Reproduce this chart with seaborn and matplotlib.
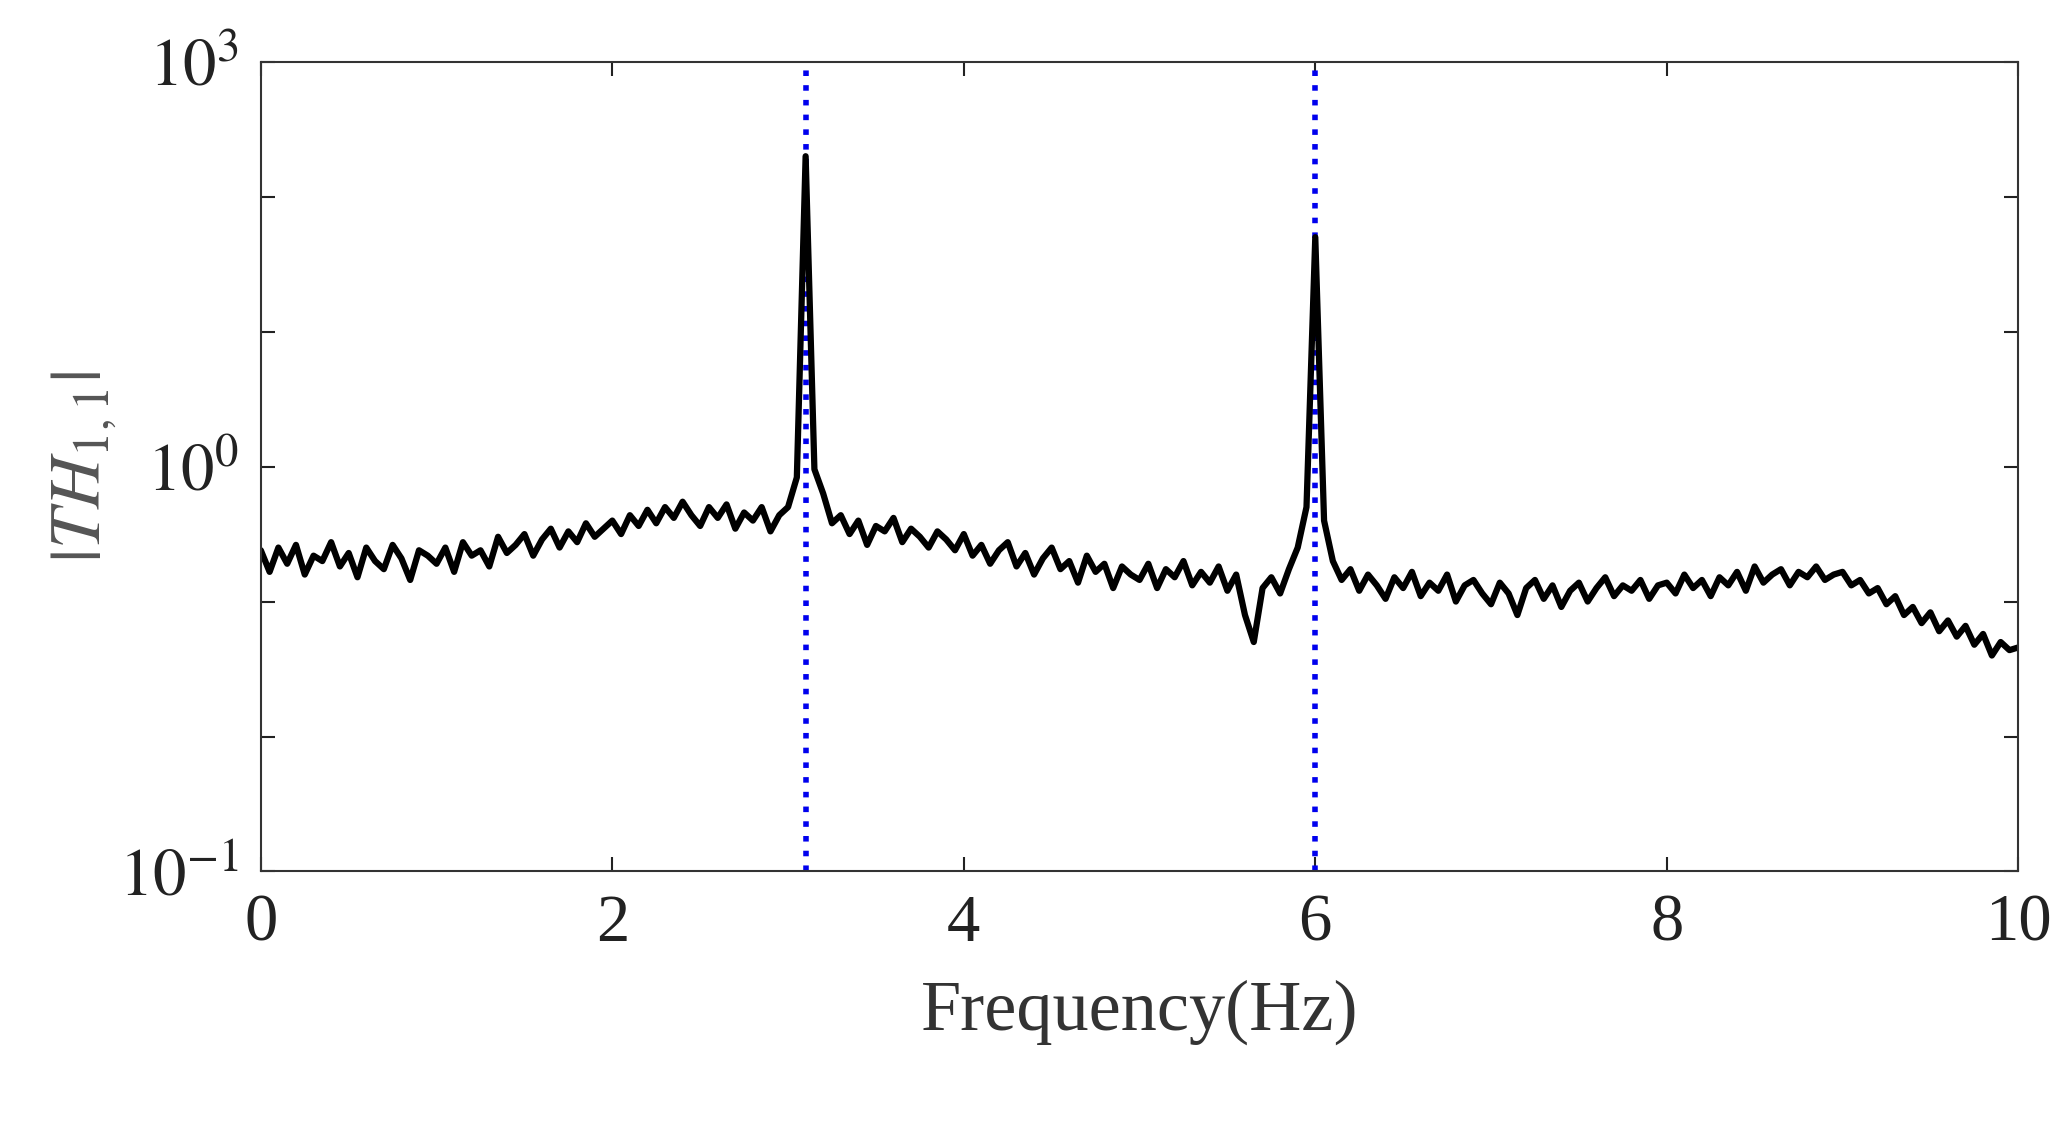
import numpy as np
import pandas as pd
import matplotlib.pyplot as plt
import seaborn as sns

# spectrum values, log10 magnitude, sampled every 0.05 Hz from 0 to 10 Hz
log_mag = [
    -0.62, -0.78, -0.60, -0.72, -0.58, -0.80, -0.66, -0.70, -0.56, -0.74,
    -0.64, -0.82, -0.60, -0.70, -0.76, -0.58, -0.68, -0.84, -0.62, -0.66,
    -0.72, -0.60, -0.78, -0.56, -0.66, -0.62, -0.74, -0.52, -0.64, -0.58,
    -0.50, -0.66, -0.54, -0.46, -0.60, -0.48, -0.56, -0.42, -0.52, -0.46,
    -0.40, -0.50, -0.36, -0.44, -0.32, -0.42, -0.30, -0.38, -0.26, -0.36,
    -0.44, -0.30, -0.38, -0.28, -0.46, -0.34, -0.40, -0.30, -0.48, -0.36,
    -0.30, -0.08, 2.30, -0.02, -0.20, -0.42, -0.36, -0.50, -0.40, -0.58,
    -0.44, -0.48, -0.38, -0.56, -0.46, -0.52, -0.60, -0.48, -0.54, -0.62,
    -0.50, -0.66, -0.58, -0.72, -0.62, -0.56, -0.74, -0.64, -0.80, -0.68,
    -0.60, -0.76, -0.70, -0.86, -0.66, -0.78, -0.72, -0.90, -0.74, -0.80,
    -0.84, -0.72, -0.90, -0.76, -0.82, -0.70, -0.88, -0.78, -0.86, -0.74,
    -0.92, -0.80, -1.10, -1.30, -0.90, -0.82, -0.94, -0.76, -0.60, -0.30,
    1.70, -0.40, -0.70, -0.84, -0.76, -0.92, -0.80, -0.88, -0.98, -0.82,
    -0.90, -0.78, -0.96, -0.86, -0.92, -0.80, -1.00, -0.88, -0.84, -0.94,
    -1.02, -0.86, -0.94, -1.10, -0.90, -0.84, -0.98, -0.88, -1.04, -0.92,
    -0.86, -1.00, -0.90, -0.82, -0.96, -0.88, -0.92, -0.84, -0.98, -0.88,
    -0.86, -0.94, -0.80, -0.90, -0.84, -0.96, -0.82, -0.88, -0.78, -0.92,
    -0.74, -0.86, -0.80, -0.76, -0.88, -0.78, -0.82, -0.74, -0.84, -0.80,
    -0.78, -0.88, -0.84, -0.94, -0.90, -1.02, -0.96, -1.10, -1.04, -1.16,
    -1.08, -1.22, -1.14, -1.26, -1.18, -1.32, -1.24, -1.40, -1.30, -1.36,
    -1.34,
]
freq = np.round(np.arange(len(log_mag)) * 0.05, 2)
peak_freqs = [3.1, 6.0]

x_ticks = [0, 2, 4, 6, 8, 10]
y_ticks = [1e-3, 1e-2, 1e-1, 1e0, 1e1, 1e2, 1e3]
y_labels = ['$10^{-1}$', '', '', '$10^{0}$', '', '', '$10^{3}$']

df = pd.DataFrame({'f': freq, 'mag': 10.0 ** np.array(log_mag)})

sns.set_style('ticks')
plt.rcParams['font.family'] = ['Liberation Serif', 'DejaVu Serif']
plt.rcParams['mathtext.fontset'] = 'stix'

fig = plt.figure(figsize=(20.7, 11.23), dpi=100)
ax = fig.add_axes([0.126, 0.224, 0.849, 0.721])

for pf in peak_freqs:
    ax.axvline(pf, color='#0000ee', ls=':', lw=4, zorder=1)
sns.lineplot(data=df, x='f', y='mag', color='black', lw=4.5, ax=ax, zorder=2)

ax.set_yscale('log')
ax.set_xlim(0, 10)
ax.set_ylim(1e-3, 1e3)
ax.set_xticks(x_ticks)
ax.set_yticks(y_ticks)
ax.set_yticklabels(y_labels)
ax.minorticks_off()
ax.tick_params(direction='in', length=10, width=1.5, labelsize=48, colors='#222222',
               top=True, right=True, pad=16)
for s in ax.spines.values():
    s.set_linewidth(1.5)
    s.set_color('#333333')

ax.set_xlabel('Frequency(Hz)', fontsize=52, color='#333333', labelpad=18)
ax.set_ylabel('$|TH_{1,1}|$', fontsize=52, color='#555555', labelpad=0)

fig.savefig('out.png', dpi=100)
